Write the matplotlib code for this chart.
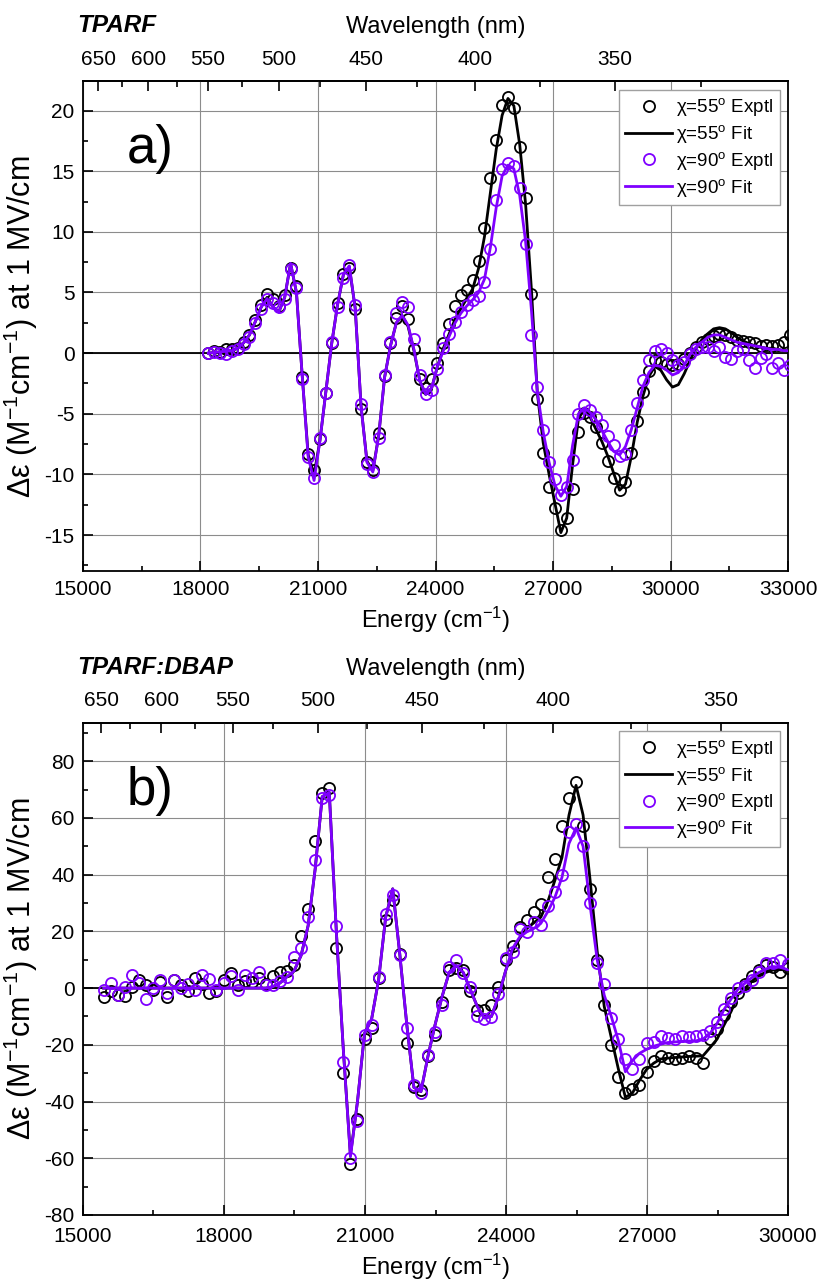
import matplotlib
matplotlib.use("Agg")
import matplotlib.pyplot as plt
import numpy as np

matplotlib.rcParams.update({
    "font.family": ["Liberation Sans", "DejaVu Sans"],
    "mathtext.fontset": "custom",
    "mathtext.rm": "Liberation Sans",
    "mathtext.it": "Liberation Sans:italic",
    "mathtext.bf": "Liberation Sans:bold",
    "axes.linewidth": 1.3,
    "axes.unicode_minus": False,
})

PURPLE = "#7f00ff"
GRID = "#8c8c8c"

LABELS = [r"χ=55$^{\rm o}$ Exptl", r"χ=55$^{\rm o}$ Fit",
          r"χ=90$^{\rm o}$ Exptl", r"χ=90$^{\rm o}$ Fit"]

# ---- panel a) TPARF ----
energy_a = [
    18200, 18350, 18500, 18650, 18800, 18950, 19100, 19250, 19400, 19550,
    19700, 19850, 20000, 20150, 20300, 20450, 20600, 20750, 20900, 21050,
    21200, 21350, 21500, 21650, 21800, 21950, 22100, 22250, 22400, 22550,
    22700, 22850, 23000, 23150, 23300, 23450, 23600, 23750, 23900, 24050,
    24200, 24350, 24500, 24650, 24800, 24950, 25100, 25250, 25400, 25550,
    25700, 25850, 26000, 26150, 26300, 26450, 26600, 26750, 26900, 27050,
    27200, 27350, 27500, 27650, 27800, 27950, 28100, 28250, 28400, 28550,
    28700, 28850, 29000, 29150, 29300, 29450, 29600, 29750, 29900, 30050,
    30200, 30350, 30500, 30650, 30800, 30950, 31100, 31250, 31400, 31550,
    31700, 31850, 32000, 32150, 32300, 32450, 32600, 32750, 32900, 33050]
exp55_a = [
    0.0, 0.15, 0.1, 0.3, 0.35, 0.45, 0.9, 1.5, 2.7, 4.0,
    4.9, 4.5, 3.9, 4.8, 7.0, 5.5, -2.0, -8.3, -9.6, -7.1,
    -3.3, 0.8, 4.1, 6.5, 7.0, 3.6, -4.6, -9.0, -9.6, -6.6,
    -1.9, 0.8, 2.9, 3.9, 2.8, 0.3, -2.1, -2.9, -2.1, -0.8,
    0.8, 2.4, 3.9, 4.8, 5.2, 6.0, 7.6, 10.3, 14.4, 17.6,
    20.5, 21.1, 20.2, 17.0, 12.8, 4.9, -3.8, -8.2, -11.0, -12.8,
    -14.6, -13.6, -11.2, -6.5, -4.9, -5.3, -6.1, -7.4, -8.9, -10.3,
    -11.3, -10.6, -8.2, -5.6, -3.2, -1.5, -0.6, -0.7, -0.9, -1.0,
    -0.9, -0.5, 0.0, 0.5, 0.9, 1.2, 1.4, 1.6, 1.5, 1.3,
    1.1, 1.0, 0.9, 0.8, 0.6, 0.7, 0.6, 0.7, 0.9, 1.5]
fit55_a = [
    0.0, 0.05, 0.1, 0.15, 0.2, 0.4, 0.85, 1.5, 2.6, 3.8,
    4.6, 3.8, 3.4, 4.6, 7.4, 5.0, -2.0, -8.4, -10.0, -7.2,
    -3.2, 0.8, 4.0, 6.5, 7.1, 3.7, -4.4, -8.9, -9.7, -6.8,
    -2.0, 0.6, 2.5, 3.1, 2.2, 0.2, -2.3, -3.4, -2.9, -1.1,
    0.4, 1.6, 2.8, 3.7, 4.5, 5.3, 7.0, 9.6, 13.2, 16.8,
    19.6, 21.0, 20.4, 17.2, 12.3, 5.2, -3.3, -7.4, -10.0, -12.4,
    -14.8, -13.6, -9.2, -5.4, -4.6, -5.3, -6.3, -7.3, -8.5, -9.9,
    -11.3, -10.8, -8.5, -5.7, -3.5, -1.9, -1.1, -1.4, -2.2, -2.8,
    -2.6, -1.7, -0.6, 0.4, 1.1, 1.6, 2.0, 2.1, 2.0, 1.7,
    1.3, 1.0, 0.8, 0.6, 0.5, 0.4, 0.4, 0.3, 0.2, 0.2]
exp90_a = [
    0.0, 0.1, 0.0, -0.05, 0.15, 0.35, 0.75, 1.35, 2.5, 3.6,
    4.5, 4.1, 3.8, 4.5, 6.9, 5.4, -2.1, -8.6, -10.3, -7.0,
    -3.3, 0.9, 3.8, 6.2, 7.3, 4.0, -4.2, -9.1, -9.8, -7.0,
    -1.8, 0.9, 3.3, 4.2, 3.8, 1.2, -1.8, -3.4, -3.0, -1.3,
    0.4, 1.6, 2.6, 3.4, 4.0, 4.4, 4.7, 5.9, 8.6, 12.6,
    15.2, 15.7, 15.4, 13.6, 9.0, 1.5, -2.8, -6.3, -9.0, -10.4,
    -11.7, -11.0, -8.8, -5.0, -4.3, -4.7, -5.3, -5.9, -6.8, -7.6,
    -8.5, -8.3, -6.3, -4.1, -2.2, -0.6, 0.2, 0.3, 0.0, -0.6,
    -1.0, -0.7, -0.1, 0.3, 0.5, 0.5, 0.2, 0.5, -0.3, -0.5,
    0.2, 0.3, -0.6, -1.2, -0.4, -0.1, -1.2, -0.8, -1.4, -1.0]
fit90_a = [
    0.0, 0.05, 0.1, 0.15, 0.2, 0.4, 0.85, 1.5, 2.6, 3.8,
    4.5, 3.8, 3.4, 4.6, 7.4, 5.0, -2.0, -8.6, -10.5, -7.2,
    -3.2, 0.8, 4.0, 6.5, 7.2, 3.7, -4.4, -9.0, -9.8, -6.8,
    -2.0, 0.6, 2.5, 3.1, 2.3, 0.3, -2.3, -3.4, -2.9, -1.1,
    0.2, 1.4, 2.5, 3.3, 3.9, 4.4, 5.0, 6.1, 8.7, 12.0,
    14.6, 15.5, 15.2, 13.0, 9.2, 3.5, -3.2, -6.5, -9.0, -10.9,
    -11.8, -11.0, -7.6, -5.0, -4.5, -4.9, -5.5, -6.4, -7.3, -8.1,
    -8.4, -7.7, -6.3, -4.5, -2.7, -1.6, -1.0, -1.1, -1.4, -1.8,
    -1.6, -1.0, -0.1, 0.5, 0.9, 1.3, 1.5, 1.5, 1.3, 1.1,
    0.9, 0.8, 0.7, 0.6, 0.5, 0.4, 0.3, 0.3, 0.2, 0.2]

# ---- panel b) TPARF:DBAP ----
energy_b = [
    15440, 15590, 15740, 15890, 16040, 16190, 16340, 16490, 16640, 16790,
    16940, 17090, 17240, 17390, 17540, 17690, 17840, 17990, 18140, 18290,
    18440, 18590, 18740, 18890, 19040, 19190, 19340, 19490, 19640, 19790,
    19940, 20090, 20240, 20390, 20540, 20690, 20840, 20990, 21140, 21290,
    21440, 21590, 21740, 21890, 22040, 22190, 22340, 22490, 22640, 22790,
    22940, 23090, 23240, 23390, 23540, 23690, 23840, 23990, 24140, 24290,
    24440, 24590, 24740, 24890, 25040, 25190, 25340, 25490, 25640, 25790,
    25940, 26090, 26240, 26390, 26540, 26690, 26840, 26990, 27140, 27290,
    27440, 27590, 27740, 27890, 28040, 28190, 28340, 28490, 28640, 28790,
    28940, 29090, 29240, 29390, 29540, 29690, 29840, 29990]
exp55_b = [
    -3.0, -1.0, -2.5, -2.9, 0.5, 3.0, 1.0, -0.5, 2.0, -3.2,
    2.9, 1.0, -1.0, 3.5, 1.5, -1.8, -1.2, 3.0, 5.3, 1.0,
    2.5, 2.3, 3.5, 1.5, 4.1, 5.5, 6.2, 8.0, 18.5, 28.0,
    52.0, 68.8, 70.5, 14.0, -30.0, -62.0, -46.0, -18.0, -14.0, 3.5,
    24.0, 31.0, 12.0, -19.5, -35.0, -36.0, -24.0, -16.5, -5.0, 6.5,
    7.0, 6.4, -1.0, -7.6, -7.6, -5.8, 0.5, 10.0, 15.0, 21.6,
    24.0, 27.0, 29.5, 39.0, 45.5, 57.0, 67.0, 72.5, 57.0, 35.0,
    10.0, -6.0, -20.0, -31.5, -37.0, -35.5, -34.0, -29.5, -25.6, -24.0,
    -24.5, -25.0, -24.5, -24.0, -24.5, -26.5, -18.0, -14.5, -9.5, -5.0,
    -1.7, 1.5, 4.1, 6.5, 8.0, 7.5, 5.8, 7.0]
fit55_b = [
    0.0, 0.0, 0.0, 0.0, 0.0, 0.0, 0.0, 0.0, 0.0, 0.0,
    0.0, 0.0, 0.0, 0.0, 0.0, 0.0, 0.0, 0.0, 0.0, 0.0,
    0.0, 0.0, 0.0, 0.0, 0.5, 1.8, 4.0, 6.0, 11.5, 22.0,
    42.0, 67.5, 69.0, 20.0, -22.0, -59.0, -40.0, -16.0, -11.0, 3.0,
    25.0, 35.0, 12.0, -13.0, -35.0, -36.5, -24.0, -13.0, -3.0, 5.5,
    8.0, 5.5, -0.5, -6.5, -10.5, -10.0, -3.0, 6.0, 13.0, 17.5,
    21.0, 23.0, 25.0, 30.5, 38.0, 46.0, 61.0, 71.5, 61.0, 38.0,
    13.0, -6.5, -17.5, -28.5, -38.5, -37.0, -32.5, -28.7, -26.5, -25.0,
    -24.7, -24.5, -24.3, -24.1, -24.0, -23.9, -21.0, -18.0, -13.0, -8.2,
    -2.2, 0.0, 2.5, 4.6, 5.6, 6.4, 6.5, 6.5]
exp90_b = [
    -0.5, 1.8, -2.3, 0.5, 4.7, 1.8, -3.9, 0.2, 2.7, -1.8,
    2.9, 0.0, 1.5, -0.8, 4.7, 3.2, -0.8, 1.8, 4.1, -0.8,
    4.7, 3.5, 5.8, 1.2, 1.0, 2.5, 3.8, 10.8, 14.0, 25.0,
    45.0, 67.0, 68.0, 22.0, -26.0, -60.0, -47.0, -16.5, -13.0, 4.0,
    26.0, 33.0, 11.5, -14.0, -34.0, -37.0, -23.5, -15.5, -6.0, 7.5,
    9.8, 5.2, 0.5, -10.0, -11.0, -10.3, -2.0, 10.5, 12.8, 21.0,
    19.8, 23.2, 22.3, 29.0, 34.0, 40.0, 55.0, 58.0, 50.0, 30.0,
    9.0, 1.5, -10.5, -18.0, -25.0, -28.5, -25.0, -19.5, -19.0, -17.0,
    -17.5, -18.0, -17.0, -17.2, -17.0, -16.5, -15.0, -11.8, -7.5, -3.5,
    0.0, 0.6, 2.9, 5.8, 8.7, 8.7, 9.9, 8.5]
fit90_b = [
    0.0, 0.0, 0.0, 0.0, 0.0, 0.0, 0.0, 0.0, 0.0, 0.0,
    0.0, 0.0, 0.0, 0.0, 0.0, 0.0, 0.0, 0.0, 0.0, 0.0,
    0.0, 0.0, 0.0, 0.0, 0.5, 1.8, 4.0, 6.0, 11.5, 22.0,
    42.0, 67.5, 69.0, 20.0, -22.0, -59.5, -40.0, -16.0, -11.0, 3.0,
    25.0, 35.0, 12.0, -13.0, -35.0, -36.5, -24.0, -13.0, -3.0, 5.5,
    8.0, 5.5, -0.5, -6.5, -10.5, -10.0, -3.0, 6.0, 14.0, 18.0,
    19.8, 21.0, 22.8, 27.0, 32.0, 39.0, 51.0, 56.5, 50.0, 29.0,
    10.0, -2.5, -10.0, -18.5, -29.5, -25.5, -23.0, -21.6, -20.5, -19.8,
    -19.2, -19.0, -18.8, -18.7, -18.6, -18.0, -16.0, -12.5, -7.5, -3.8,
    -0.3, 1.8, 3.8, 5.6, 6.8, 7.6, 7.3, 6.5]

wl_major = [650, 600, 550, 500, 450, 400, 350]
wl_minor = [625, 575, 525, 475, 425, 375, 325]


def to_nm(x):
    x = np.asarray(x, dtype=float)
    with np.errstate(divide="ignore", invalid="ignore"):
        return 1e7 / x


def ticks_in(lo, hi, step):
    t = np.arange(np.ceil(lo / step) * step, hi + 1e-9, step)
    return t[(t >= lo) & (t <= hi)]


def draw_panel(ax, energy, series, xlim, ylim, xstep, ystep, tag, letter, xpad):
    exp55, fit55, exp90, fit90 = series
    ax.axhline(0, color="black", lw=1.3, zorder=1)
    ax.plot(energy, exp55, "o", mfc="none", mec="black", ms=8, mew=1.3,
            label=LABELS[0], zorder=2)
    ax.plot(energy, fit55, "-", color="black", lw=2.0, label=LABELS[1], zorder=3)
    ax.plot(energy, exp90, "o", mfc="none", mec=PURPLE, ms=8, mew=1.3,
            label=LABELS[2], zorder=4)
    ax.plot(energy, fit90, "-", color=PURPLE, lw=2.0, label=LABELS[3], zorder=5)

    ax.set_xticks(ticks_in(xlim[0], xlim[1], xstep))
    ax.set_xticks(ticks_in(xlim[0], xlim[1], xstep / 2), minor=True)
    ax.set_yticks(ticks_in(ylim[0], ylim[1], ystep))
    ax.set_yticks(ticks_in(ylim[0], ylim[1], ystep / 2), minor=True)
    ax.set_xlim(*xlim)
    ax.set_ylim(*ylim)
    ax.tick_params(which="both", direction="in", top=False, right=False,
                   labelsize=15, width=1.2)
    ax.tick_params(which="major", length=7, pad=6)
    ax.tick_params(axis="x", which="major", pad=xpad)
    ax.tick_params(which="minor", length=3.5)
    ax.grid(True, which="major", color=GRID, lw=0.8)
    ax.set_axisbelow(True)

    ax.set_xlabel(r"Energy (cm$^{-1}$)", fontsize=17, labelpad=4)
    ax.set_ylabel(r"Δε (M$^{-1}$cm$^{-1}$) at 1 MV/cm", fontsize=22,
                  labelpad=3)

    sec = ax.secondary_xaxis("top", functions=(to_nm, to_nm))
    sec.set_xticks(wl_major)
    sec.set_xticks(wl_minor, minor=True)
    sec.tick_params(which="both", direction="in", labelsize=15, width=1.2)
    sec.tick_params(which="major", length=7, pad=9)
    sec.tick_params(which="minor", length=4)
    sec.set_xlabel("Wavelength (nm)", fontsize=17, labelpad=12)

    ax.text(0.062, 0.862, letter, transform=ax.transAxes, fontsize=38,
            ha="left", va="center")
    ax.text(-0.008, 1.09, tag, transform=ax.transAxes, fontsize=17.5,
            weight="bold", style="italic", ha="left", va="bottom")

    leg = ax.legend(loc="upper right", fontsize=13.5, numpoints=1,
                    handlelength=2.5, handletextpad=0.2, labelspacing=0.25,
                    borderpad=0.35, borderaxespad=0.45, fancybox=False,
                    framealpha=1)
    leg.get_frame().set_edgecolor("#a0a0a0")
    leg.get_frame().set_linewidth(1.0)


fig = plt.figure(figsize=(8.2, 12.85), dpi=100)
ax_a = fig.add_axes([0.1012, 0.5553, 0.8598, 0.3813])
ax_b = fig.add_axes([0.1012, 0.0545, 0.8598, 0.3829])

draw_panel(ax_a, energy_a, (exp55_a, fit55_a, exp90_a, fit90_a),
           (15000, 33000), (-18, 22.4), 3000, 5, "TPARF", "a)", 6)
draw_panel(ax_b, energy_b, (exp55_b, fit55_b, exp90_b, fit90_b),
           (15000, 30000), (-80, 93.5), 3000, 20, "TPARF:DBAP", "b)", 9)

fig.savefig("out.png", dpi=100)
